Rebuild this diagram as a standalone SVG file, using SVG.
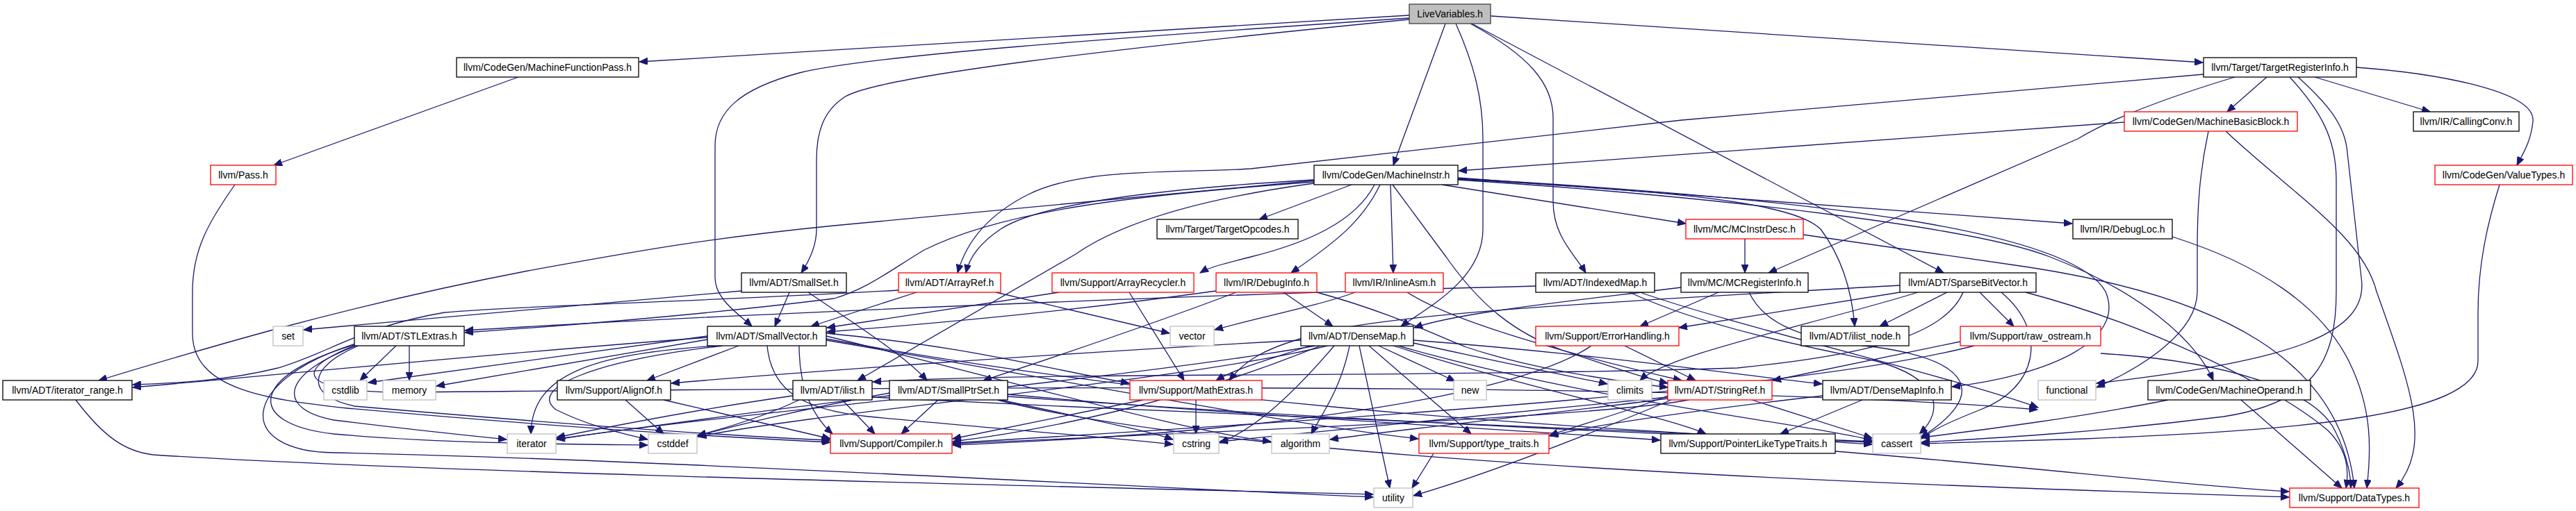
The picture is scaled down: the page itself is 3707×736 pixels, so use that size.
<svg xmlns="http://www.w3.org/2000/svg" width="3707" height="736" viewBox="0 0 3707 736">
<style>
.n rect{fill:#fff;stroke:#000;stroke-width:1.3}
.r rect{stroke:#f00}
.g rect{stroke:#bfbfbf}
.root rect{fill:#bfbfbf;stroke:#404040}
text{font-family:"Liberation Sans",Arial,sans-serif;font-size:14px;text-anchor:middle;fill:#000}
#edges path{fill:none;stroke:#191970;stroke-width:1.3;marker-end:url(#a)}
</style>
<defs>
<marker id="a" markerUnits="userSpaceOnUse" markerWidth="13" markerHeight="10" refX="12" refY="5" orient="auto"><path d="M0,0 L12,5 L0,10 z" fill="#191970" stroke="#191970" stroke-width="1"/></marker>
</defs>
<rect width="3707" height="736" fill="#fff"/>
<g id="edges">
<path d="M2028,22 L920,89"/>
<path d="M2080,34 L2005,238"/>
<path d="M2145,23 L3170,90"/>
<path d="M2028,28 C1600,70 1260,110 1215,140 C1185,160 1175,190 1175,230 L1175,330 C1175,355 1165,375 1153,393"/>
<path d="M2028,26 C1600,55 1250,80 1150,105 C1065,128 1029,160 1029,210 L1029,400 C1029,430 1060,450 1082,470"/>
<path d="M2095,34 C2120,90 2134,140 2134,200 L2134,330 C2134,400 2060,440 2016,470"/>
<path d="M2116,34 C2200,80 2235,120 2235,170 L2235,290 C2235,340 2265,365 2282,393"/>
<path d="M2118,34 L2797,393"/>
<path d="M746,111 L394,238"/>
<path d="M338,266 C300,320 277,360 277,420 L277,480 C277,560 380,575 500,588 C800,615 1050,630 1195,637"/>
<path d="M3262,111 L3205,161"/>
<path d="M3331,111 L3497,161"/>
<path d="M3391,97 C3500,105 3650,130 3645,175 C3642,205 3630,222 3622,238"/>
<path d="M3171,107 L2420,173 L1800,243 C1700,250 1560,240 1480,280 C1420,310 1390,350 1378,393"/>
<path d="M3216,111 C3120,140 3040,170 2990,200 L2545,393"/>
<path d="M3295,111 C3340,160 3362,200 3362,260 L3362,420 C3362,520 3330,580 3200,600 C3000,625 2850,632 2765,637"/>
<path d="M3307,111 C3350,150 3375,180 3378,220 L3398,400 C3410,480 3300,520 3017,552"/>
<path d="M3057,176 L2099,246"/>
<path d="M3178,189 C3165,250 3162,300 3162,360 L3162,420 C3162,480 3080,530 3017,558"/>
<path d="M3203,189 C3300,280 3400,340 3420,420 C3470,560 3500,640 3448,703"/>
<path d="M3597,266 C3580,320 3566,380 3566,450 L3566,520 C3566,600 3300,620 3000,632 L2765,639"/>
<path d="M3126,341 C3250,380 3340,440 3380,520 C3415,590 3412,650 3406,703"/>
<path d="M2595,338 L2900,382 C3200,425 3370,520 3388,703"/>
<path d="M2511,344 L2511,393"/>
<path d="M1945,266 L1812,316"/>
<path d="M1891,260 L1200,325 C1000,345 900,365 760,390 C500,440 300,500 142,548"/>
<path d="M1891,262 C1650,280 1450,300 1330,360 C1280,390 1250,415 1200,430 C1000,455 800,470 669,479"/>
<path d="M1978,266 C1950,320 1880,350 1800,370 C1760,380 1740,385 1727,393"/>
<path d="M1986,266 C1960,320 1920,350 1858,393"/>
<path d="M1891,259 C1700,270 1500,290 1440,330 C1410,350 1395,370 1390,393"/>
<path d="M1891,264 C1700,290 1600,330 1548,366 L1234,548"/>
<path d="M2001,266 L2005,393"/>
<path d="M2075,266 L2426,322"/>
<path d="M2098,256 L2982,322"/>
<path d="M2098,258 C2400,275 2580,290 2620,330 C2650,370 2665,420 2669,470"/>
<path d="M2098,259 C2500,285 2850,330 2950,370 C3080,420 3160,490 3185,548"/>
<path d="M2098,257 C2600,285 2980,330 3030,420 C3060,490 2950,540 2809,557"/>
<path d="M2004,266 L2081,370 C2130,440 2180,480 2250,505 C2310,525 2350,540 2400,552"/>
<path d="M1067,419 L437,475"/>
<path d="M1136,421 L1115,470"/>
<path d="M1163,421 C1220,460 1300,510 1334,548"/>
<path d="M1319,421 L1167,470"/>
<path d="M1433,421 L1683,480"/>
<path d="M1293,418 C1000,435 750,440 640,450 C520,470 470,510 400,530 C320,550 240,552 191,554"/>
<path d="M1524,421 L1190,472"/>
<path d="M1625,421 L1704,548"/>
<path d="M1750,419 C1600,440 1400,462 1190,478"/>
<path d="M1779,421 C1650,470 1500,520 1415,548"/>
<path d="M1847,421 L1918,470"/>
<path d="M1895,421 C2000,450 2060,480 2110,500 C2200,530 2300,545 2400,558"/>
<path d="M1950,421 C1900,440 1800,460 1748,475"/>
<path d="M2025,421 C2100,470 2300,520 2420,548"/>
<path d="M2210,412 C1700,425 1000,455 669,476"/>
<path d="M2345,421 C2450,470 2600,500 2700,520 C2790,545 2800,590 2762,625"/>
<path d="M2360,421 C2500,470 2800,540 2933,587"/>
<path d="M2419,414 C2250,435 2100,450 2035,472"/>
<path d="M2473,421 L2360,470"/>
<path d="M2517,421 C2540,470 2600,490 2700,500 C2840,520 2860,570 2764,630"/>
<path d="M2734,421 L2416,472"/>
<path d="M2802,421 L2705,470"/>
<path d="M2849,421 L2898,470"/>
<path d="M2734,411 C2400,430 2000,450 1900,480 C1820,500 1790,520 1769,548"/>
<path d="M2825,421 C2800,480 2700,510 2500,530 C2000,545 1500,535 1256,550"/>
<path d="M2915,421 C3100,470 3280,560 3350,620 C3380,650 3380,680 3376,703"/>
<path d="M2880,421 C2950,480 2930,560 2850,590 C2800,610 2780,620 2765,632"/>
<path d="M2760,421 C2600,470 2400,510 2360,548"/>
<path d="M570,498 L518,548"/>
<path d="M589,498 L589,548"/>
<path d="M513,498 C400,540 400,590 480,605 C600,620 680,628 729,633"/>
<path d="M512,496 C360,540 350,610 480,625 C650,640 850,640 932,641"/>
<path d="M516,498 C440,530 440,570 510,585 C800,610 1050,628 1194,634"/>
<path d="M511,495 C340,550 340,650 480,652 C900,660 1600,700 1976,716"/>
<path d="M512,497 C430,530 420,560 560,565 C1200,560 2400,545 2932,590"/>
<path d="M109,576 C150,630 180,650 220,655 C600,680 1500,700 1976,712"/>
<path d="M1063,498 L931,548"/>
<path d="M1030,498 C850,510 765,540 764,625"/>
<path d="M1040,498 C850,520 760,560 800,590 C850,615 900,625 932,633"/>
<path d="M1018,484 L530,551"/>
<path d="M1018,489 L628,556"/>
<path d="M1018,486 C700,510 400,540 191,558"/>
<path d="M1150,498 C1150,560 1170,600 1198,625"/>
<path d="M1189,480 C1400,500 1500,530 1625,552"/>
<path d="M1104,498 C1110,560 1150,590 1250,600 C1400,615 1600,630 1688,640"/>
<path d="M1189,490 C1600,560 1850,610 2041,632"/>
<path d="M1189,484 C1500,560 1700,620 1829,636"/>
<path d="M1189,488 C1800,600 2400,620 2694,640"/>
<path d="M1872,490 C1500,510 1100,540 966,552"/>
<path d="M2034,490 C2300,510 2500,540 2622,553"/>
<path d="M1885,498 C1820,520 1780,530 1750,548"/>
<path d="M2005,498 C2200,560 2400,600 2455,625"/>
<path d="M1970,498 L2117,625"/>
<path d="M1942,498 C1930,560 1900,600 1887,625"/>
<path d="M1956,498 L2000,703"/>
<path d="M1984,498 L2094,549"/>
<path d="M2034,494 C2150,520 2250,540 2313,553"/>
<path d="M2012,498 C2300,580 2600,610 2694,634"/>
<path d="M1910,498 C1700,550 1200,590 1004,629"/>
<path d="M1893,498 C1600,550 1000,600 801,633"/>
<path d="M1920,498 C1850,580 1800,620 1755,638"/>
<path d="M1900,498 C1700,580 1500,620 1371,636"/>
<path d="M2290,498 C2200,560 1900,620 1371,641"/>
<path d="M2338,498 L2440,548"/>
<path d="M2821,492 L2551,548"/>
<path d="M3023,509 C3200,520 3330,560 3360,620 C3380,660 3383,690 3383,703"/>
<path d="M2841,498 C2600,560 2000,600 1371,638"/>
<path d="M900,576 L955,625"/>
<path d="M955,576 L1195,632"/>
<path d="M1212,576 L1259,625"/>
<path d="M1141,570 C1000,590 850,620 801,630"/>
<path d="M1150,576 C1100,600 1050,615 1004,627"/>
<path d="M1255,572 C1800,600 2400,620 2694,636"/>
<path d="M1350,576 L1297,625"/>
<path d="M1435,576 C1800,670 2800,700 3294,716"/>
<path d="M1440,576 C1550,600 1650,620 1688,633"/>
<path d="M1450,568 C1800,600 2200,620 2389,634"/>
<path d="M1450,571 C2000,610 2500,630 2694,637"/>
<path d="M1280,566 C1150,590 1050,615 1004,628"/>
<path d="M1280,570 C1100,590 900,620 801,632"/>
<path d="M1645,576 L1371,632"/>
<path d="M1721,576 L1721,625"/>
<path d="M2430,576 C2300,600 1800,620 1371,639"/>
<path d="M2521,576 L2694,631"/>
<path d="M2405,576 C2300,620 2150,680 2034,714"/>
<path d="M2400,570 C2350,590 2280,610 2230,627"/>
<path d="M2400,574 C2200,600 2000,620 1914,633"/>
<path d="M2400,572 C2100,600 1900,620 1755,636"/>
<path d="M2680,576 L2562,625"/>
<path d="M2623,570 C2450,590 2300,610 2230,628"/>
<path d="M3225,576 L3370,703"/>
<path d="M3120,576 C3000,600 2850,620 2765,630"/>
<path d="M2641,650 C2900,670 3150,700 3294,708"/>
<path d="M2063,653 L2032,703"/>
</g>
<g id="n-live" class="n root"><rect x="2028" y="6" width="117" height="28"/><text x="2086.5" y="25">LiveVariables.h</text></g>
<g id="n-mfp" class="n"><rect x="657" y="83" width="262" height="28"/><text x="788" y="102">llvm/CodeGen/MachineFunctionPass.h</text></g>
<g id="n-tri" class="n"><rect x="3171" y="83" width="220" height="28"/><text x="3281" y="102">llvm/Target/TargetRegisterInfo.h</text></g>
<g id="n-mbb" class="n r"><rect x="3057" y="161" width="249" height="28"/><text x="3181.5" y="180">llvm/CodeGen/MachineBasicBlock.h</text></g>
<g id="n-cc" class="n"><rect x="3473" y="161" width="152" height="28"/><text x="3549" y="180">llvm/IR/CallingConv.h</text></g>
<g id="n-pass" class="n r"><rect x="303" y="238" width="94" height="28"/><text x="350" y="257">llvm/Pass.h</text></g>
<g id="n-mi" class="n"><rect x="1891" y="238" width="207" height="28"/><text x="1994.5" y="257">llvm/CodeGen/MachineInstr.h</text></g>
<g id="n-vt" class="n r"><rect x="3504" y="238" width="198" height="28"/><text x="3603" y="257">llvm/CodeGen/ValueTypes.h</text></g>
<g id="n-to" class="n"><rect x="1665" y="316" width="203" height="28"/><text x="1766.5" y="335">llvm/Target/TargetOpcodes.h</text></g>
<g id="n-mcid" class="n r"><rect x="2426" y="316" width="169" height="28"/><text x="2510.5" y="335">llvm/MC/MCInstrDesc.h</text></g>
<g id="n-dl" class="n"><rect x="2983" y="316" width="143" height="28"/><text x="3054.5" y="335">llvm/IR/DebugLoc.h</text></g>
<g id="n-ss" class="n"><rect x="1067" y="393" width="151" height="28"/><text x="1142.5" y="412">llvm/ADT/SmallSet.h</text></g>
<g id="n-ar" class="n r"><rect x="1293" y="393" width="147" height="28"/><text x="1366.5" y="412">llvm/ADT/ArrayRef.h</text></g>
<g id="n-arc" class="n r"><rect x="1514" y="393" width="204" height="28"/><text x="1616" y="412">llvm/Support/ArrayRecycler.h</text></g>
<g id="n-di" class="n r"><rect x="1750" y="393" width="145" height="28"/><text x="1822.5" y="412">llvm/IR/DebugInfo.h</text></g>
<g id="n-ia" class="n r"><rect x="1936" y="393" width="141" height="28"/><text x="2006.5" y="412">llvm/IR/InlineAsm.h</text></g>
<g id="n-im" class="n"><rect x="2210" y="393" width="171" height="28"/><text x="2295.5" y="412">llvm/ADT/IndexedMap.h</text></g>
<g id="n-mcri" class="n"><rect x="2419" y="393" width="183" height="28"/><text x="2510.5" y="412">llvm/MC/MCRegisterInfo.h</text></g>
<g id="n-sbv" class="n"><rect x="2734" y="393" width="196" height="28"/><text x="2832" y="412">llvm/ADT/SparseBitVector.h</text></g>
<g id="n-set" class="n g"><rect x="393" y="470" width="43" height="28"/><text x="414.5" y="489">set</text></g>
<g id="n-stle" class="n"><rect x="510" y="470" width="158" height="28"/><text x="589" y="489">llvm/ADT/STLExtras.h</text></g>
<g id="n-sv" class="n"><rect x="1018" y="470" width="171" height="28"/><text x="1103.5" y="489">llvm/ADT/SmallVector.h</text></g>
<g id="n-vector" class="n g"><rect x="1684" y="470" width="63" height="28"/><text x="1715.5" y="489">vector</text></g>
<g id="n-dm" class="n"><rect x="1872" y="470" width="162" height="28"/><text x="1953" y="489">llvm/ADT/DenseMap.h</text></g>
<g id="n-eh" class="n r"><rect x="2210" y="470" width="206" height="28"/><text x="2313" y="489">llvm/Support/ErrorHandling.h</text></g>
<g id="n-iln" class="n"><rect x="2592" y="470" width="155" height="28"/><text x="2669.5" y="489">llvm/ADT/ilist_node.h</text></g>
<g id="n-ro" class="n r"><rect x="2821" y="470" width="202" height="28"/><text x="2922" y="489">llvm/Support/raw_ostream.h</text></g>
<g id="n-ir" class="n"><rect x="4" y="548" width="186" height="28"/><text x="97" y="567">llvm/ADT/iterator_range.h</text></g>
<g id="n-cstdlib" class="n g"><rect x="466" y="548" width="62" height="28"/><text x="497" y="567">cstdlib</text></g>
<g id="n-memory" class="n g"><rect x="551" y="548" width="76" height="28"/><text x="589" y="567">memory</text></g>
<g id="n-ao" class="n"><rect x="802" y="548" width="163" height="28"/><text x="883.5" y="567">llvm/Support/AlignOf.h</text></g>
<g id="n-il" class="n"><rect x="1141" y="548" width="114" height="28"/><text x="1198" y="567">llvm/ADT/ilist.h</text></g>
<g id="n-sps" class="n"><rect x="1280" y="548" width="170" height="28"/><text x="1365" y="567">llvm/ADT/SmallPtrSet.h</text></g>
<g id="n-me" class="n r"><rect x="1626" y="548" width="190" height="28"/><text x="1721" y="567">llvm/Support/MathExtras.h</text></g>
<g id="n-new" class="n g"><rect x="2092" y="548" width="47" height="28"/><text x="2115.5" y="567">new</text></g>
<g id="n-climits" class="n g"><rect x="2314" y="548" width="63" height="28"/><text x="2345.5" y="567">climits</text></g>
<g id="n-sr" class="n r"><rect x="2400" y="548" width="150" height="28"/><text x="2475" y="567">llvm/ADT/StringRef.h</text></g>
<g id="n-dmi" class="n"><rect x="2623" y="548" width="185" height="28"/><text x="2715.5" y="567">llvm/ADT/DenseMapInfo.h</text></g>
<g id="n-func" class="n g"><rect x="2933" y="548" width="83" height="28"/><text x="2974.5" y="567">functional</text></g>
<g id="n-mo" class="n"><rect x="3091" y="548" width="234" height="28"/><text x="3208" y="567">llvm/CodeGen/MachineOperand.h</text></g>
<g id="n-iterator" class="n g"><rect x="730" y="625" width="70" height="28"/><text x="765" y="644">iterator</text></g>
<g id="n-cstddef" class="n g"><rect x="933" y="625" width="70" height="28"/><text x="968" y="644">cstddef</text></g>
<g id="n-comp" class="n r"><rect x="1195" y="625" width="175" height="28"/><text x="1282.5" y="644">llvm/Support/Compiler.h</text></g>
<g id="n-cstring" class="n g"><rect x="1689" y="625" width="65" height="28"/><text x="1721.5" y="644">cstring</text></g>
<g id="n-algorithm" class="n g"><rect x="1830" y="625" width="83" height="28"/><text x="1871.5" y="644">algorithm</text></g>
<g id="n-tt" class="n r"><rect x="2042" y="625" width="187" height="28"/><text x="2135.5" y="644">llvm/Support/type_traits.h</text></g>
<g id="n-pltt" class="n"><rect x="2390" y="625" width="251" height="28"/><text x="2515.5" y="644">llvm/Support/PointerLikeTypeTraits.h</text></g>
<g id="n-cassert" class="n g"><rect x="2695" y="625" width="69" height="28"/><text x="2729.5" y="644">cassert</text></g>
<g id="n-utility" class="n g"><rect x="1977" y="703" width="56" height="28"/><text x="2005" y="722">utility</text></g>
<g id="n-dt" class="n r"><rect x="3295" y="703" width="186" height="28"/><text x="3388" y="722">llvm/Support/DataTypes.h</text></g>
</svg>
